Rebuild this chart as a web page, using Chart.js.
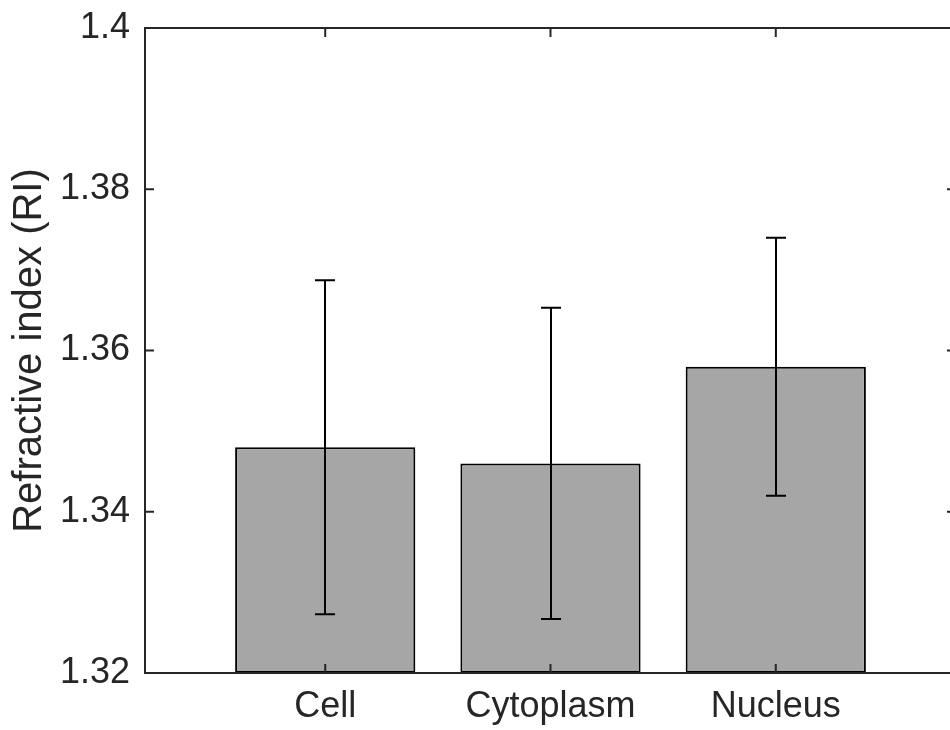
<!DOCTYPE html>
<html>
<head>
<meta charset="utf-8">
<title>Refractive index</title>
<script src="https://cdn.jsdelivr.net/npm/chart.js@4/dist/chart.umd.min.js"></script>
<style>
  html, body { margin: 0; padding: 0; background: #ffffff; overflow: hidden; }
  #wrap { width: 960px; height: 730px; }
</style>
</head>
<body>
<div id="wrap"><canvas id="chart" width="960" height="730"></canvas></div>
<script>
// Compartments and their mean refractive index with standard deviation
const categories = ['Cell', 'Cytoplasm', 'Nucleus'];
const categoryPositions = [1, 2, 3];
const meanRI = [1.348, 1.346, 1.358];
const stdRI = [0.0207, 0.0193, 0.0160];
const yTicks = [1.32, 1.34, 1.36, 1.38, 1.4];
const yMin = 1.32;
const yMax = 1.4;

const INK = '#262626';
const FONT = '"Liberation Sans", Arial, Helvetica, sans-serif';

// Boxed axes with inward tick marks on all four sides
const framePlugin = {
  id: 'frame',
  afterDatasetsDraw(chart) {
    const { ctx, chartArea: a, scales: { x, y } } = chart;
    const tick = 9;
    ctx.save();
    ctx.strokeStyle = INK;
    ctx.lineWidth = 2;
    ctx.lineCap = 'square';
    ctx.beginPath();
    ctx.rect(a.left, a.top, a.right - a.left, a.bottom - a.top);
    ctx.stroke();
    ctx.lineCap = 'butt';
    ctx.beginPath();
    yTicks.forEach(v => {
      const py = y.getPixelForValue(v);
      ctx.moveTo(a.left, py); ctx.lineTo(a.left + tick, py);
      ctx.moveTo(a.right, py); ctx.lineTo(a.right - tick, py);
    });
    categoryPositions.forEach(v => {
      const px = x.getPixelForValue(v);
      ctx.moveTo(px, a.bottom); ctx.lineTo(px, a.bottom - tick);
      ctx.moveTo(px, a.top); ctx.lineTo(px, a.top + tick);
    });
    ctx.stroke();
    ctx.restore();
  }
};

// Error bars (mean ± std) drawn on top of the bars
const errorBarPlugin = {
  id: 'errorBars',
  afterDatasetsDraw(chart) {
    const { ctx, scales: { y } } = chart;
    const meta = chart.getDatasetMeta(0);
    const cap = 10;
    ctx.save();
    ctx.strokeStyle = '#000000';
    ctx.lineWidth = 2;
    meta.data.forEach((bar, i) => {
      const px = Math.round(bar.x);
      const hi = y.getPixelForValue(meanRI[i] + stdRI[i]);
      const lo = y.getPixelForValue(meanRI[i] - stdRI[i]);
      ctx.beginPath();
      ctx.moveTo(px, hi); ctx.lineTo(px, lo);
      ctx.moveTo(px - cap, hi); ctx.lineTo(px + cap, hi);
      ctx.moveTo(px - cap, lo); ctx.lineTo(px + cap, lo);
      ctx.stroke();
    });
    ctx.restore();
  }
};

new Chart(document.getElementById('chart'), {
  type: 'bar',
  data: {
    datasets: [{
      data: categoryPositions.map((p, i) => ({ x: p, y: meanRI[i] })),
      base: yMin,
      backgroundColor: '#a6a6a6',
      borderColor: '#000000',
      borderWidth: 2,
      borderSkipped: false,
      barPercentage: 0.8,
      categoryPercentage: 1.0
    }]
  },
  options: {
    responsive: false,
    devicePixelRatio: 1,
    animation: false,
    layout: { padding: { top: 28, right: 4, left: 0, bottom: 0 } },
    plugins: {
      legend: { display: false },
      tooltip: { enabled: false }
    },
    scales: {
      x: {
        type: 'linear',
        min: 0.2,
        max: 3.8,
        offset: false,
        grid: { display: false, drawTicks: false, offset: false },
        border: { display: false },
        afterBuildTicks(scale) { scale.ticks = categoryPositions.map(v => ({ value: v })); },
        afterFit(scale) {
          scale.height = 57;
          scale.paddingLeft = 0; scale.paddingRight = 0;
          scale.paddingTop = 0; scale.paddingBottom = 0;
        },
        ticks: {
          autoSkip: false,
          maxRotation: 0,
          padding: 12,
          color: INK,
          font: { family: FONT, size: 36 },
          callback: (v) => categories[categoryPositions.indexOf(v)] || ''
        }
      },
      y: {
        min: yMin,
        max: yMax,
        grid: { display: false, drawTicks: false },
        border: { display: false },
        afterBuildTicks(scale) { scale.ticks = yTicks.map(v => ({ value: v })); },
        afterFit(scale) {
          scale.width = 145;
          scale.paddingLeft = 0; scale.paddingRight = 0;
          scale.paddingTop = 0; scale.paddingBottom = 0;
        },
        ticks: {
          padding: 15,
          color: INK,
          font: { family: FONT, size: 36 },
          callback: (v) => String(Number(Number(v).toFixed(2)))
        },
        title: {
          display: true,
          text: 'Refractive index (RI)',
          color: INK,
          font: { family: FONT, size: 40, lineHeight: 1.2 },
          padding: { top: 6, bottom: 0 }
        }
      }
    }
  },
  plugins: [framePlugin, errorBarPlugin]
});
</script>
</body>
</html>
